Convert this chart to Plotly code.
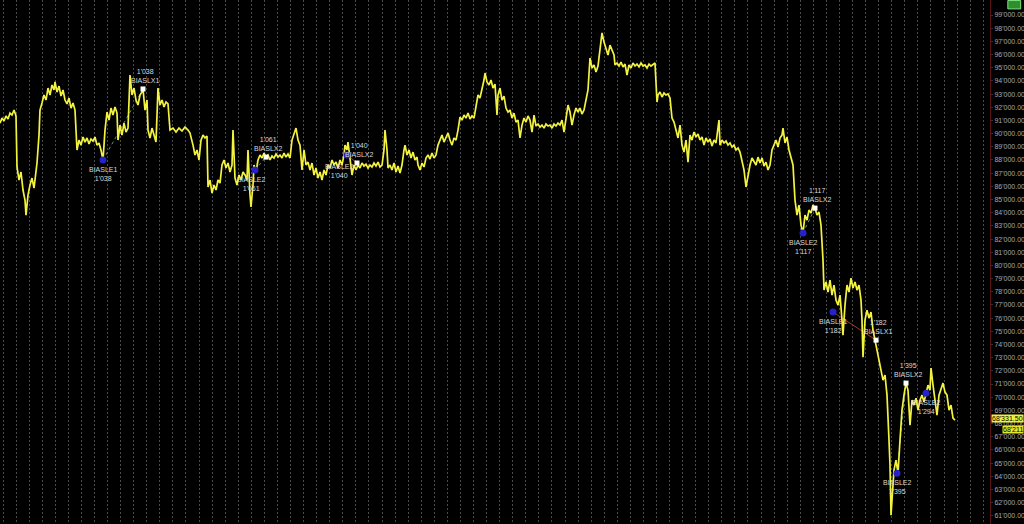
import plotly.graph_objects as go

# ---- price series (bar number, close) ----
bars = [0,2,4,6,8,10,12,14,16,17,19,21,23,25,26,28,30,32,34,36,37,39,40,42,44,46,48,50,52,54,55,57,59,61,63,65,67,69,71,73,75,77,79,81,83,85,87,89,91,93,95,97,99,101,103,105,107,109,111,113,115,117,118,120,122,124,126,128,130,132,134,136,138,140,142,143,145,147,148,150,152,154,156,158,160,162,164,166,168,170,173,176,179,182,185,188,190,193,195,197,199,201,203,205,207,208,210,212,214,216,218,220,222,224,226,228,230,232,233,235,237,239,241,243,245,247,248,250,251,253,254,256,258,260,262,264,266,268,270,272,274,276,278,280,282,284,286,288,290,292,294,296,298,300,302,304,306,308,310,312,314,316,318,320,322,324,326,328,330,332,334,336,338,340,342,344,345,347,348,350,352,354,356,358,360,362,364,366,368,370,372,374,376,378,380,382,384,385,387,388,390,392,394,396,398,400,402,404,405,407,409,411,413,415,417,418,420,422,424,426,428,430,432,434,436,438,440,442,444,446,448,450,452,454,456,458,460,462,464,466,468,470,472,474,476,478,480,482,484,485,487,489,491,493,495,497,498,500,502,504,506,508,510,512,514,516,518,520,522,524,526,528,530,532,534,536,538,540,542,544,546,548,550,552,554,556,558,560,562,564,566,568,570,572,574,576,578,580,582,584,586,588,590,592,594,596,598,600,602,604,606,608,610,612,614,615,617,619,621,623,625,627,629,631,633,635,637,639,641,643,645,647,649,651,653,655,657,658,660,662,664,666,668,670,672,674,676,678,680,682,684,686,688,690,692,694,696,698,700,702,704,706,708,710,712,714,716,718,719,720,722,724,726,728,730,732,734,736,738,740,742,744,746,748,750,752,754,756,758,760,762,764,766,768,770,772,774,776,778,780,782,783,785,787,789,791,793,795,797,799,801,803,805,807,809,811,813,815,817,819,821,823,824,826,828,830,832,834,836,838,840,842,843,845,847,849,851,853,855,857,859,861,862,863,865,867,869,871,873,875,877,879,881,883,885,887,889,890,891,892,894,896,898,900,902,904,906,908,910,912,914,916,918,920,922,924,926,928,930,931,933,935,937,939,941,943,945,947,949,951,953,955]

close = [90800,91180,90960,91340,91110,91560,91410,91790,91340,87470,86480,87090,85720,84960,83820,85340,86100,86630,85870,87240,87770,89890,91790,92320,92930,92550,93460,92930,93690,93310,93920,93160,93610,92850,93310,92550,92250,92700,91940,92320,91790,88760,89510,89130,89740,89360,89670,89210,89590,89440,89740,89130,89290,88760,88000,90270,91640,91030,91940,91410,92020,91560,89510,90650,89890,90800,90120,90420,94450,92930,93460,92550,92170,92930,93160,93390,91790,92550,90270,89670,90420,89890,89360,93460,92170,92550,92020,92400,92250,90270,90420,90120,90420,90200,90500,90270,90050,89130,88380,88760,88000,89510,89890,89670,89820,85950,86480,85490,86100,85720,86480,86250,87620,88000,87390,87770,87090,87620,90270,86630,86100,86860,86480,87090,86860,86480,88760,85340,84430,86100,87620,87090,88000,88380,88150,88530,88220,88380,88000,88300,88150,88450,88220,88380,88150,88530,88220,88450,88150,89510,90050,90420,89510,89130,87240,88760,87620,87840,87240,87770,86860,87390,86630,87090,86480,87240,86860,87620,87390,88000,87620,87840,87390,88000,87620,88380,89130,88760,89360,88000,86860,87620,87240,87620,87390,87770,87540,87690,87390,87620,87470,87770,87540,87840,87470,87620,88760,90270,88760,87390,87620,87240,87770,87090,87540,87010,87620,88760,89130,88380,88760,88150,88600,88000,88220,87620,87240,87770,87470,88150,88380,88070,88530,88150,88380,89130,89510,89890,89360,89740,90050,89510,89130,89670,89510,90270,91260,91030,91410,91180,91560,91110,91340,91180,92170,92930,92700,93310,94070,94600,93920,93690,94070,93460,93760,91410,92930,93460,92550,92850,91940,91640,91790,91180,91560,90880,91030,89670,90650,91180,90880,91340,91030,90120,91410,90580,90730,90500,90650,90420,90730,90580,90650,90420,90730,90580,90800,90650,91030,90120,91180,92170,91640,90650,91410,91940,91640,91940,91490,91790,92550,93310,95740,94980,95210,94680,95130,96350,97640,96950,96350,95970,96720,96350,95970,95210,95360,95130,95430,95060,95280,94450,95210,94980,95360,95130,95280,95060,95360,95130,95210,94980,95280,95130,95280,95360,92400,92930,93160,92780,93080,92930,93010,92700,91180,90880,90270,89670,90650,89130,88600,89510,87840,89890,89510,90120,89740,89970,89510,89740,89130,89670,89360,89590,89060,89510,89290,90270,91030,89130,89510,89290,89440,89130,89290,88980,89130,88760,88910,88600,88000,87240,85950,86860,87620,88150,87840,87620,88220,87770,88150,87540,87840,87240,87620,88760,89130,89510,88980,89670,89890,90420,89290,89740,88760,88150,87620,84960,83820,84580,83060,82460,83820,83440,84200,83970,84580,84350,83820,84050,83060,80410,78130,78740,77980,78890,77750,78510,77370,76990,77750,75850,74710,76990,78510,77980,79040,78280,78740,78130,78510,77370,75850,73040,75850,76610,76000,76460,75090,74330,73580,72660,71910,71300,71680,70160,66740,64850,61050,62420,64470,65230,64240,66740,69020,70160,71070,70540,67880,69780,69400,69930,69020,69780,70160,69630,70310,70920,70540,72210,70920,69780,68640,70160,70690,71070,70390,70160,69020,69400,68410,68260]

# ---- strategy trades ----
entry_bar = [103, 255, 347, 803, 833, 897, 926]
entry_price = [88000, 87240, 88380, 82460, 76460, 64240, 70310]
entry_label = ["BIASLE1<br>1'038", "BIASLE2<br>1'061", "BIASLE2<br>1'040", "BIASLE2<br>1'117",
               "BIASLE1<br>1'182", "BIASLE2<br>1'395", "BIASLE2<br>1'294"]
exit_bar = [143, 266, 357, 815, 876, 906]
exit_price = [93390, 88220, 87770, 84350, 74330, 71070]
exit_label = ["1'038<br>BIASLX1", "1'061<br>BIASLX2", "1'040<br>BIASLX2", "1'117<br>BIASLX2",
              "1'182<br>BIASLX1", "1'395<br>BIASLX2"]

# ---- price axis ----
tick_vals = list(range(61000, 100000, 1000))
tick_text = [f"{v // 1000}'{v % 1000:03d}.00" for v in tick_vals]
last_labels = ["68'331.50", "68'211"]

fig = go.Figure()

# trade connection lines
for i in range(len(exit_bar)):
    win = exit_price[i] > entry_price[i]
    fig.add_trace(go.Scatter(
        x=[entry_bar[i], exit_bar[i]], y=[entry_price[i], exit_price[i]],
        mode="lines", line=dict(color="#5f9a5a" if win else "#a83a22", width=1,
                                dash="dot" if win else "solid"),
        hoverinfo="skip", showlegend=False))

fig.add_trace(go.Scatter(x=bars, y=close, mode="lines",
                         line=dict(color="#f3f23f", width=1.7),
                         showlegend=False, hoverinfo="skip"))

fig.add_trace(go.Scatter(x=entry_bar, y=entry_price, mode="markers",
                         marker=dict(color="#2323c8", size=7, symbol="circle"),
                         showlegend=False, hoverinfo="skip"))
fig.add_trace(go.Scatter(x=exit_bar, y=exit_price, mode="markers",
                         marker=dict(color="#ffffff", size=5, symbol="square"),
                         showlegend=False, hoverinfo="skip"))

lab_font = dict(family="Liberation Sans, Arial", size=7, color="#d8d8d8")
entry_dx = [0, -4, -8, 0, 0, 0, 0]
entry_dy = [-4, -4, -6, -4, -4, -4, -4]
for bx, py, t, dx, dy in zip(entry_bar, entry_price, entry_label, entry_dx, entry_dy):
    fig.add_annotation(x=bx, y=py, xref="x", yref="y", text=t, showarrow=False,
                       yanchor="top", yshift=dy, xshift=dx, font=lab_font, align="center")
for bx, py, t in zip(exit_bar, exit_price, exit_label):
    fig.add_annotation(x=bx, y=py, xref="x", yref="y", text=t, showarrow=False,
                       yanchor="bottom", yshift=3, xshift=2, font=lab_font, align="center")

# last price boxes on the axis
fig.add_annotation(x=1.0, y=close[-1] + 120, xref="paper", yref="y", text=last_labels[0],
                   showarrow=False, xanchor="left", xshift=1,
                   font=dict(family="Liberation Sans", size=7, color="#000"),
                   bgcolor="#f0f040", borderpad=0)
fig.add_annotation(x=1.0, y=close[-1] - 680, xref="paper", yref="y", text=last_labels[1],
                   showarrow=False, xanchor="left", xshift=12,
                   font=dict(family="Liberation Sans", size=7, color="#000"),
                   bgcolor="#e6e630", borderpad=0)

# small green button top-right
fig.add_shape(type="rect", xref="paper", yref="paper", x0=1.018, x1=1.031, y0=0.983, y1=0.999,
              fillcolor="#2f8f2f", line=dict(color="#7fdf7f", width=1))

fig.update_layout(
    width=1024, height=524,
    margin=dict(l=0, r=34, t=0, b=0),
    paper_bgcolor="#000000", plot_bgcolor="#000000",
    xaxis=dict(range=[0, 990], showticklabels=False, ticks="", zeroline=False,
               showgrid=True, gridcolor="#4a4a4a", griddash="2px,2px", gridwidth=1,
               tick0=3, dtick=13.07, showline=False, fixedrange=True),
    yaxis=dict(range=[60380, 100140], side="right", tickvals=tick_vals, ticktext=tick_text,
               showgrid=False, zeroline=False, showline=True, linecolor="#5a1414", linewidth=1,
               ticks="outside", ticklen=2, tickcolor="#333",
               tickfont=dict(family="Liberation Sans, Arial", size=7, color="#a8a8a8")),
    showlegend=False,
)

fig.write_html("out.html", config={"displayModeBar": False},
               post_script="document.body.style.margin='0';document.body.style.background='#000';"
                           "document.documentElement.style.overflow='hidden';")
